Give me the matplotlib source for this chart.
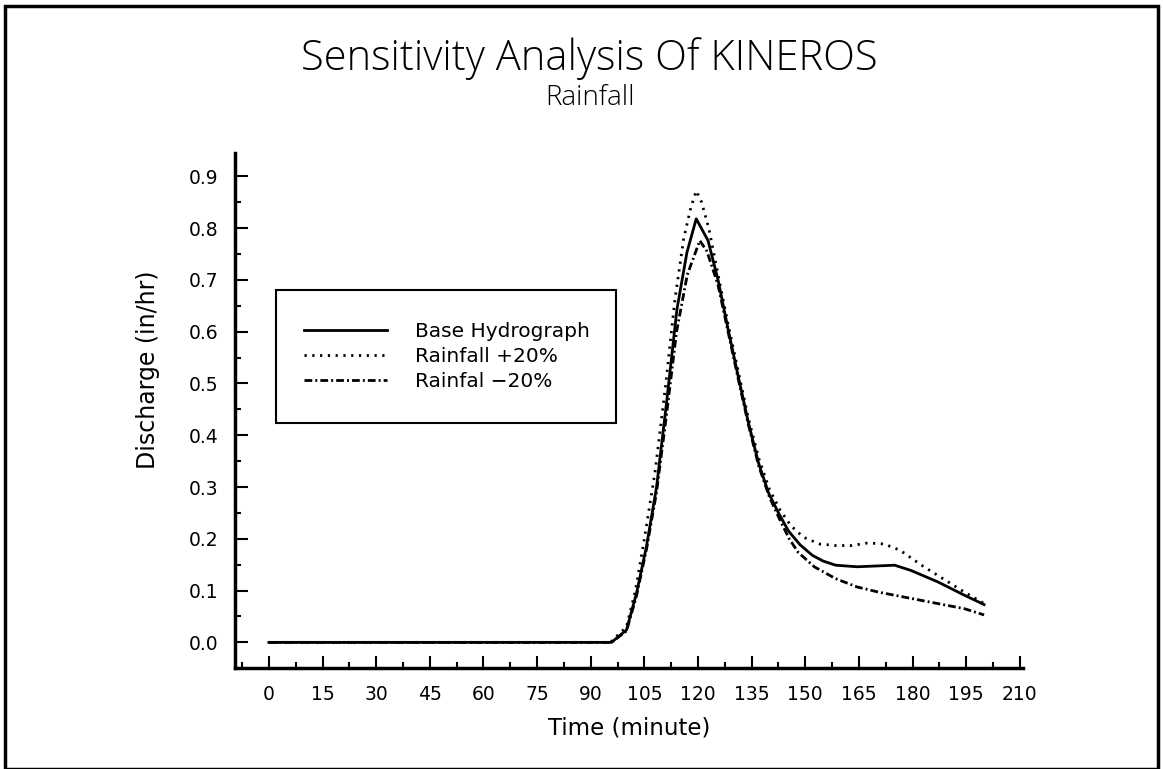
import matplotlib
matplotlib.use("Agg")
import matplotlib.pyplot as plt
from matplotlib.patches import Rectangle
from matplotlib.ticker import MultipleLocator

# Base hydrograph (in/hr)
base_t = [0, 95.8, 100, 102.8, 105.6, 108.4, 111.2, 114.1, 116.9, 119.5,
          122.8, 125.6, 128.4, 131.2, 134.1, 136.9, 139.7, 142.5, 145.3,
          148.6, 152, 155, 158.5, 164.5, 175, 179.5, 187, 194.5, 200]
base_q = [0, 0, 0.024, 0.095, 0.186, 0.30, 0.463, 0.643, 0.753, 0.818,
          0.776, 0.70, 0.605, 0.515, 0.424, 0.347, 0.289, 0.25, 0.215,
          0.188, 0.168, 0.157, 0.149, 0.146, 0.149, 0.139, 0.117, 0.091, 0.073]

# Rainfall +20%
plus_t = [0, 95.5, 100, 102.5, 105, 108, 111, 113.5, 116, 118, 119.5,
          121, 123, 125.6, 128.4, 131.2, 134, 137, 140, 143, 146, 149.5,
          154, 158.5, 163, 167.5, 172, 176.5, 182.5, 188.5, 194.5, 200]
plus_q = [0, 0, 0.03, 0.10, 0.20, 0.33, 0.50, 0.66, 0.78, 0.84, 0.872,
          0.85, 0.80, 0.71, 0.615, 0.525, 0.435, 0.355, 0.295, 0.255, 0.225,
          0.203, 0.19, 0.187, 0.187, 0.192, 0.19, 0.178, 0.149, 0.123, 0.097, 0.075]

# Rainfall -20%
minus_t = [0, 95.8, 100, 102.8, 105.6, 108.4, 111.2, 114, 117, 120.5,
           122.5, 125.6, 128.4, 131.2, 134.1, 137, 140, 143, 145.5, 148,
           152.5, 158.5, 164.5, 170.5, 179.5, 187, 194.5, 200]
minus_q = [0, 0, 0.022, 0.09, 0.18, 0.29, 0.44, 0.60, 0.71, 0.776,
           0.755, 0.69, 0.60, 0.51, 0.42, 0.34, 0.28, 0.235, 0.20, 0.174,
           0.146, 0.123, 0.107, 0.097, 0.085, 0.075, 0.065, 0.053]

labels = ["Base Hydrograph", "Rainfall +20%", "Rainfal \u221220%"]

plt.rcParams['font.family'] = ['DejaVu Sans']

fig = plt.figure(figsize=(11.63, 7.69), dpi=100)
ax = fig.add_axes([0.202, 0.131, 0.678, 0.670])

ax.plot(base_t, base_q, color="black", lw=2.0, linestyle="-", label=labels[0])
ax.plot(plus_t, plus_q, color="black", lw=2.0, linestyle=(0, (0.8, 2.0)),
        label=labels[1])
ax.plot(minus_t, minus_q, color="black", lw=2.0,
        linestyle=(0, (2.8, 1.1, 0.7, 1.1)), label=labels[2])

ax.set_xlim(-9.5, 211)
ax.set_ylim(-0.05, 0.945)
ax.xaxis.set_minor_locator(MultipleLocator(7.5))
ax.yaxis.set_minor_locator(MultipleLocator(0.05))
ax.set_xticks(range(0, 211, 15))
ax.set_yticks([i / 10 for i in range(10)])
ax.set_yticklabels([f"{i / 10:.1f}" for i in range(10)])

for side in ("top", "right"):
    ax.spines[side].set_visible(False)
for side in ("left", "bottom"):
    ax.spines[side].set_linewidth(2.5)

ax.tick_params(which="major", direction="in", length=9, width=1.5,
               labelsize=13.5, pad=12)
ax.tick_params(which="minor", direction="in", length=4.5, width=1.5)

ax.set_xlabel("Time (minute)", fontsize=16.5, labelpad=9)
ax.set_ylabel("Discharge (in/hr)", fontsize=17)
ax.yaxis.set_label_coords(-0.095, 0.58)

fig.text(0.507, 1 - 70 / 769, "Sensitivity Analysis Of KINEROS", ha="center",
         va="baseline", fontsize=30, family="Open Sans", weight="light")
fig.text(0.507, 1 - 105 / 769, "Rainfall", ha="center", va="baseline",
         fontsize=20, family="Open Sans", weight="light")

# legend box
fig.patches.append(Rectangle((276 / 1163, 1 - 423 / 769), (616 - 276) / 1163,
                             (423 - 290) / 769, transform=fig.transFigure,
                             fill=False, edgecolor="black", lw=1.5))
ax.legend(loc="upper left", bbox_to_anchor=(304 / 1163, 1 - 322 / 769),
          bbox_transform=fig.transFigure, frameon=False, fontsize=14.5,
          handlelength=4.1, handletextpad=1.4, labelspacing=0.29,
          borderaxespad=0, borderpad=0)

# page frame
fig.patches.append(Rectangle((0.004, 0.0), 0.992, 0.992, transform=fig.transFigure,
                             fill=False, edgecolor="black", lw=2.5))

fig.savefig("out.png", dpi=100)
